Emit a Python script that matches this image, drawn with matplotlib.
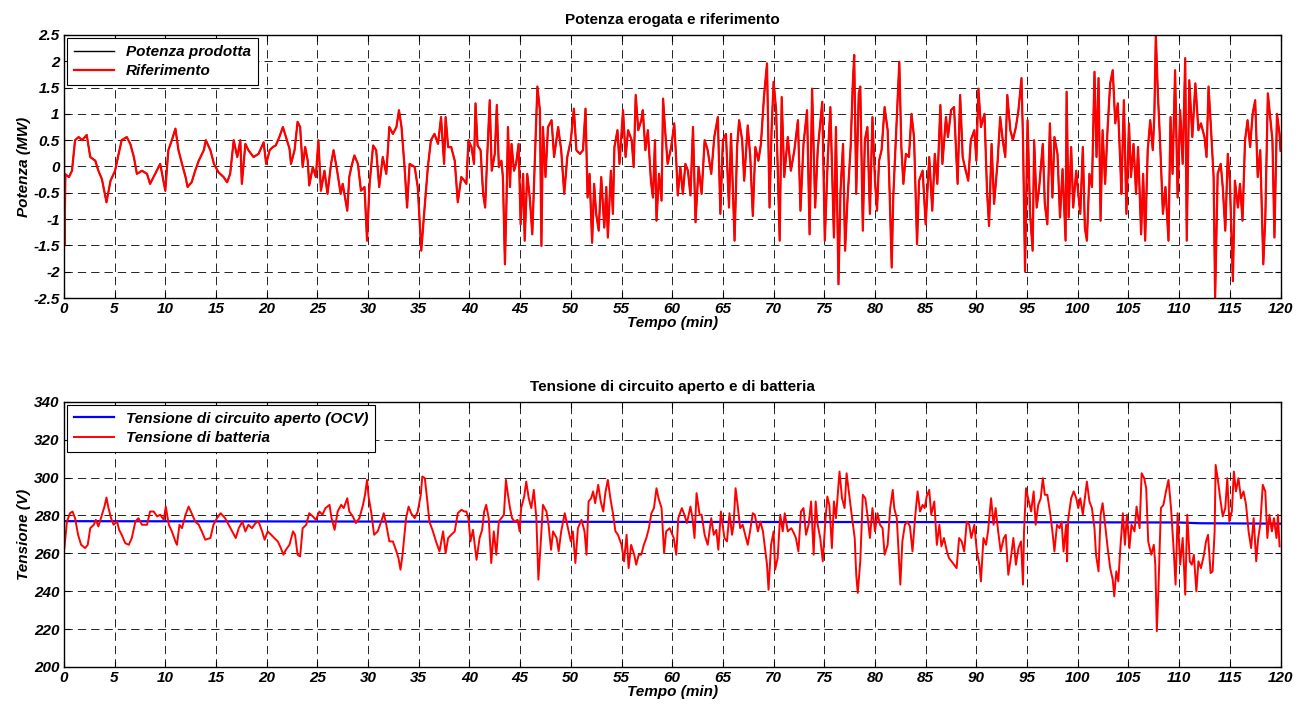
import numpy as np
import matplotlib
matplotlib.use("Agg")
import matplotlib.pyplot as plt
from matplotlib.ticker import FuncFormatter, MultipleLocator

plt.rcParams['font.family'] = ['Liberation Sans', 'DejaVu Sans']
plt.rcParams['axes.unicode_minus'] = False

# --- potenza (MW) ---
t_pot = [0.0, 0.05, 0.15, 0.5, 0.8, 1.1, 1.45, 1.8, 2.25, 2.6, 3.1, 3.4, 3.75, 4.2, 4.6, 5.05, 5.4, 5.7, 6.2, 6.55,
         6.9, 7.2, 7.7, 8.2, 8.5, 9.0, 9.5, 10.0, 10.3, 10.65, 11.0, 11.3, 11.65, 12.0, 12.2, 12.6, 12.95, 13.3, 13.8, 14.0,
         14.45, 14.8, 15.25, 15.75, 16.1, 16.4, 16.75, 17.1, 17.4, 17.55, 17.9, 18.2, 18.7, 19.2, 19.7,
         19.95, 20.3, 20.6, 20.9, 21.25, 21.6, 21.9, 22.25, 22.4, 22.75, 23.05, 23.3, 23.55, 23.8, 24.05, 24.2, 24.55,
         24.85, 25.1, 25.35, 25.7, 26.0, 26.35, 26.6, 26.95, 27.3, 27.5, 27.95, 28.15, 28.35, 28.65, 29.0, 29.3, 29.65,
         29.9, 30.15, 30.5, 30.8, 31.1, 31.45, 31.8, 32.1, 32.45, 32.8, 33.05, 33.3, 33.6, 33.85, 34.1, 34.6, 34.9, 35.25,
         35.5, 35.9, 36.2, 36.55, 36.9, 37.2, 37.5, 37.65, 37.9, 38.2, 38.55, 38.85, 39.2, 39.5,
         39.7, 39.9, 40.2, 40.45, 40.6, 40.8, 41.1, 41.35, 41.55, 41.75, 42.0, 42.2, 42.5, 42.7, 42.9, 43.15, 43.3, 43.5,
         43.65, 43.8, 44.0, 44.15, 44.4, 44.6, 44.85, 45.05, 45.3, 45.45, 45.7, 45.95, 46.2, 46.45, 46.7, 46.95, 47.1,
         47.25, 47.5, 47.75, 48.1, 48.35, 48.75, 49.05, 49.35, 49.65, 50.0, 50.3, 50.55, 50.9, 51.2, 51.45, 51.65, 51.85,
         52.1, 52.3, 52.5, 52.75, 53.0, 53.3, 53.5, 53.65, 53.95, 54.15, 54.3, 54.6, 54.8, 55.15, 55.4, 55.65, 56.0, 56.2,
         56.4, 56.65, 56.95, 57.1, 57.35, 57.6, 57.9, 58.1, 58.3, 58.45, 58.7, 58.95,
         59.1, 59.3, 59.55, 59.9, 60.2, 60.4, 60.55, 60.8, 61.05, 61.3, 61.55, 61.8, 62.05, 62.3, 62.6, 62.9, 63.2, 63.5,
         63.85, 64.15, 64.5, 64.75, 65.0, 65.3, 65.6, 65.8, 66.15, 66.4, 66.6, 66.9, 67.1, 67.45, 67.7, 67.95, 68.2, 68.5,
         68.75, 69.05, 69.35, 69.6, 69.8, 70.0, 70.25, 70.6, 70.8, 71.05, 71.4, 71.7, 72.05, 72.4, 72.65, 72.95, 73.3,
         73.55, 73.8, 74.1, 74.35, 74.8, 75.05, 75.35, 75.6, 75.95, 76.15, 76.4, 76.6, 76.85, 77.05, 77.3, 77.6, 77.8,
         77.95, 78.15, 78.4, 78.55, 78.8,
         79.0, 79.25, 79.5, 79.75, 80.0, 80.2, 80.4, 80.65, 80.95, 81.25, 81.4, 81.65, 81.8, 82.05, 82.4, 82.6, 82.8,
         83.05, 83.35, 83.6, 83.85, 84.15, 84.35, 84.7, 85.0, 85.35, 85.65, 85.9, 86.15, 86.45, 86.65, 87.0, 87.2, 87.5,
         87.8, 88.15, 88.4, 88.65, 88.95, 89.2, 89.45, 89.8, 90.0, 90.2, 90.45, 90.8, 91.05, 91.25, 91.5, 91.75, 92.1,
         92.35, 92.6, 92.85, 93.05, 93.35, 93.6, 93.9, 94.15, 94.45, 94.6, 94.8, 95.05, 95.3, 95.55, 95.7, 95.95, 96.2,
         96.55, 96.75, 97.0, 97.25, 97.5, 97.7, 98.0, 98.25,
         98.5, 98.8, 98.9, 99.1, 99.35, 99.55, 99.85, 100.05, 100.25, 100.5, 100.7, 100.9, 101.15, 101.4, 101.65, 101.85,
         102.05, 102.25, 102.45, 102.7, 102.95, 103.2, 103.45, 103.7, 103.95, 104.2, 104.3, 104.55, 104.8, 105.05, 105.25,
         105.5, 105.75, 105.95, 106.25, 106.45, 106.65, 106.9, 107.15, 107.4, 107.55, 107.7, 107.9, 108.1, 108.4, 108.65,
         108.95, 109.15, 109.35, 109.6, 109.85, 110.1, 110.35, 110.6, 110.75, 111.0, 111.3, 111.6, 111.9, 112.15, 112.5,
         112.7, 112.9, 113.15, 113.4, 113.55, 113.8, 114.1, 114.3, 114.55, 114.8, 115.0, 115.3, 115.5, 115.8, 116.0,
         116.25, 116.5, 116.75, 117.0, 117.25, 117.5, 117.75, 118.0, 118.3, 118.5, 118.75, 118.95, 119.2, 119.4, 119.65,
         119.9, 120.0]
p_rif = [1.35, -1.5, -0.15, -0.2, -0.08, 0.5, 0.56, 0.5, 0.6, 0.18, 0.11, -0.08, -0.24, -0.68, -0.27, -0.08, 0.24, 0.5, 0.56, 0.43,
         0.18, -0.14, -0.08, -0.14, -0.33, -0.14, 0.05, -0.46, 0.31, 0.5, 0.72, 0.31, 0.05, -0.2, -0.39, -0.3, -0.08, 0.11, 0.31, 0.5,
         0.31, 0.05, -0.11, -0.2, -0.3, -0.14, 0.5, 0.18, 0.5, -0.33, 0.43, 0.31, 0.18, 0.24, 0.46,
         0.05, 0.31, 0.37, 0.4, 0.56, 0.75, 0.56, 0.34, 0.05, 0.31, 0.85, 0.75, -0.01, 0.37, 0.11, -0.36, -0.01,
         -0.2, 0.5, -0.46, -0.08, -0.52, 0.05, 0.31, -0.08, -0.52, -0.33, -0.84, -0.2, -0.01, 0.21, 0.05, -0.46, -0.39,
         -1.41, -0.33, 0.4, 0.31, -0.39, 0.18, -0.14, 0.75, 0.62, 0.75, 1.07, 0.75, -0.01, -0.78, 0.05, -0.01, -0.39, -1.6,
         -0.97, -0.01, 0.5, 0.62, 0.43, 0.94, 0.05, 0.94, 0.37, 0.37, 0.11, -0.68, -0.2, -0.27,
         -0.33, 0.5, 0.37, 0.05, 1.2, 0.4, 0.31, -0.52, -0.78, 0.18, 1.26, -0.08, 0.24, 1.17, -0.01, 0.11, -0.2, -1.86,
         -0.71, 0.75, -0.39, 0.43, -0.08, 0.05, 0.43, -1.1, -0.14, -1.41, -0.14, -0.59, -1.29, 0.11, 1.52, 1.07, -1.51,
         0.75, -0.2, 0.75, 0.88, 0.18, 0.75, 0.31, -0.52, 0.18, 0.5, 1.1, 0.31, 0.24, 0.31, 1.1, -0.59, -0.14,
         -1.45, -0.33, -0.9, -1.22, -0.2, -1.16, -0.39, -1.35, -0.08, -0.9, 0.37, 0.69, 0.05, 1.07, 0.18, 0.69, 0.5, -0.01,
         1.36, 0.69, 0.88, 1.07, 0.31, 0.69, -0.27, -0.59, 0.5, -1.03, -0.14, -0.65,
         1.29, 0.69, 0.05, 0.37, 0.82, 0.11, -0.55, -0.01, -0.52, 0.05, -0.08, -0.55, 0.75, -1.06, -0.01, -0.52, 0.5, 0.31,
         -0.14, 0.56, 0.94, -0.9, 0.5, 0.62, -0.78, 0.62, -1.41, 0.37, 0.88, 0.5, -0.27, 0.78, 0.18, -0.94, 0.37, 0.11,
         0.43, 1.32, 1.96, -0.78, 0.69, 1.61, 1.07, -1.41, 1.32, -0.2, 0.56, -0.08, 0.31, 0.88, -0.84, 0.43, 1.07,
         -1.29, 1.48, -0.78, 0.31, 1.23, -1.41, 0.18, 1.13, -1.35, 0.75, -2.24, -0.46, 0.43, -1.6, -0.59, 0.37, 1.52,
         2.12, -0.52, 1.39, 1.52, -1.22,
         0.5, 0.75, -0.9, 0.94, -0.27, -0.84, 0.11, 0.31, 1.13, 0.69, -0.2, -1.92, -0.59, 0.5, 1.99, 0.37, -0.33,
         0.24, 0.18, 1.0, 0.56, -1.48, -0.27, -0.08, -1.1, 0.18, -0.84, 0.24, -0.33, 1.17, 0.05, 0.94, 0.56, 1.07,
         1.13, -0.33, 1.36, 0.18, -0.08, -0.27, 0.5, 0.69, 0.11, 1.48, 0.75, 1.0, -0.46, -1.13, 0.43, -0.71, 0.11,
         0.94, 0.5, 0.18, 1.36, 0.69, 0.5, 0.75, 1.07, 1.68, 0.5, -1.99, 0.88, -0.9, -1.6, 0.5, -0.78, -0.39,
         0.43, -0.71, -1.1, 0.82, -0.59, 0.56, 0.24, -0.97,
         -0.05, -1.41, 1.42, -0.97, 0.37, -0.78, -0.08, -0.52, -0.9, 0.37, -1.16, -1.41, -0.14, -0.39, 1.8, 0.18,
         1.68, -1.03, 0.69, -0.33, 0.75, 1.58, 1.83, 0.82, 1.2, 0.05, -0.52, 1.26, -0.9, 0.82, -0.2,
         0.43, -0.52, 0.37, -1.29, -0.14, -1.41, 0.31, 0.88, 0.31, 0.94, 2.5, 1.39, 0.56, -0.9, -0.39,
         -1.41, 0.94, -0.14, 1.83, -0.59, 1.07, 0.05, 2.06, -1.41, 1.64, 0.56, 1.58, 0.69, 0.82, 0.56,
         0.18, 1.52, 0.69, -0.2, -2.5, -0.14, 0.05, -0.39, -1.22, 0.24, -0.27, -2.18, -0.27, -0.78, -0.33,
         -1.03, 0.5, 0.88, 0.37, 1.0, 1.26, -0.2, 0.31, -1.86, -0.97, 1.39, 1.0, 0.5, -1.35, 1.0,
         0.62, 0.3]
# la potenza prodotta coincide quasi ovunque con il riferimento
p_prod = list(p_rif)

# --- tensioni (V) ---
t_ocv = [0, 30, 60, 90, 110, 112, 120]
v_ocv = [277.0, 276.8, 276.6, 276.5, 276.3, 275.9, 275.7]

t_bat = [0.05, 0.3, 0.6, 0.85, 1.1, 1.4, 1.7, 2.1, 2.35, 2.6, 2.95, 3.15, 3.4, 3.75, 4.0, 4.2, 4.4, 4.65, 4.9, 5.25,
         5.45, 5.7, 6.05, 6.4, 6.7, 7.05, 7.35, 7.7, 8.2, 8.5, 8.85, 9.2, 9.5, 9.85, 10.05, 10.35, 10.65, 11.0, 11.15,
         11.4, 11.65, 12.0, 12.3, 12.6, 12.95, 13.3, 13.6, 13.95, 14.45, 14.75, 15.1, 15.45, 15.9, 16.25, 16.6, 16.95,
         17.25, 17.6, 17.9, 18.2, 18.55, 18.9, 19.2, 19.55, 19.8,
         20.1, 20.45, 20.75, 21.1, 21.4, 21.65, 21.9, 22.25, 22.6, 22.8, 23.05, 23.3, 23.55, 23.9, 24.2, 24.55, 24.85,
         25.2, 25.5, 25.8, 26.2, 26.4, 26.7, 27.0, 27.35, 27.6, 27.95, 28.15, 28.5, 28.8, 29.15, 29.5, 29.7, 29.9, 30.05,
         30.3, 30.6, 30.95, 31.3, 31.55, 31.8, 32.1, 32.45, 32.8, 33.0, 33.2, 33.4, 33.75, 34.0, 34.25, 34.6, 34.9, 35.2,
         35.35, 35.6, 35.85, 36.05, 36.4, 36.7, 37.05, 37.4, 37.65, 37.9, 38.2, 38.55, 38.85, 39.2, 39.5,
         39.7, 39.9, 40.1, 40.35, 40.7, 41.0, 41.25, 41.45, 41.65, 41.9, 42.15, 42.4, 42.65, 42.9, 43.15, 43.4, 43.6,
         43.8, 44.0, 44.2, 44.45, 44.75, 44.95, 45.1, 45.4, 45.6, 45.85, 46.1, 46.35, 46.6, 46.8, 47.0, 47.25, 47.6, 47.8,
         48.05, 48.25, 48.6, 48.8, 49.05, 49.4, 49.65, 50.0, 50.2, 50.45, 50.7, 51.05, 51.35, 51.55, 51.75, 52.0, 52.2,
         52.4, 52.7, 52.95, 53.2, 53.4, 53.65, 53.9, 54.15, 54.4, 54.65, 55.0, 55.25, 55.5, 55.7, 55.95, 56.25, 56.45,
         56.7, 56.95, 57.2, 57.45, 57.7, 57.95, 58.2, 58.45, 58.65, 58.95, 59.2, 59.4, 59.75,
         60.15, 60.4, 60.6, 60.95, 61.2, 61.45, 61.8, 62.0, 62.2, 62.4, 62.7, 62.9, 63.2, 63.5, 63.85, 64.1, 64.35, 64.55,
         64.8, 65.15, 65.4, 65.65, 65.9, 66.05, 66.25, 66.45, 66.7, 66.95, 67.2, 67.45, 67.7, 67.95, 68.15, 68.45, 68.7,
         68.95, 69.15, 69.35, 69.5, 69.75, 70.0, 70.15, 70.4, 70.65, 70.9, 71.1, 71.4, 71.75, 72.0, 72.2, 72.45, 72.7,
         72.95, 73.2, 73.45, 73.7, 73.95, 74.15, 74.35, 74.6, 74.85, 75.1, 75.3, 75.5, 75.75, 75.95, 76.15, 76.5, 76.75,
         77.0, 77.2, 77.5, 77.7, 78.0, 78.15, 78.3, 78.55, 78.8, 79.05,
         79.25, 79.5, 79.75, 80.0, 80.25, 80.5, 80.75, 80.95, 81.25, 81.5, 81.75, 81.9, 82.15, 82.3, 82.5, 82.7, 82.95,
         83.2, 83.45, 83.7, 83.95, 84.2, 84.45, 84.7, 84.9, 85.1, 85.35, 85.55, 85.85, 86.1, 86.35, 86.55, 86.8, 87.1,
         87.3, 87.55, 87.8, 88.05, 88.3, 88.55, 88.8, 89.05, 89.3, 89.5, 89.8, 90.05, 90.3, 90.45, 90.7, 90.95, 91.15,
         91.45, 91.7, 91.9, 92.15, 92.4, 92.7, 92.9, 93.15, 93.4, 93.65, 93.9, 94.15, 94.4, 94.6, 94.7, 94.9, 95.1, 95.4,
         95.65, 95.85, 96.1, 96.35, 96.55, 96.75, 97.0, 97.3, 97.5, 97.7, 97.95, 98.2, 98.4, 98.6, 98.85,
         98.95, 99.05, 99.35, 99.6, 99.85, 100.05, 100.25, 100.5, 100.7, 100.9, 101.15, 101.4, 101.65, 101.8, 102.05,
         102.25, 102.45, 102.7, 102.95, 103.2, 103.45, 103.6, 103.8, 104.0, 104.2, 104.45, 104.65, 104.85, 105.1, 105.3,
         105.6, 105.8, 106.1, 106.3, 106.55, 106.75, 106.95, 107.25, 107.5, 107.65, 107.8, 107.95, 108.2, 108.45, 108.7,
         108.95, 109.2, 109.45, 109.65, 109.85, 110.1, 110.35, 110.6, 110.8, 111.05, 111.25, 111.45, 111.7, 111.9,
         112.15, 112.45, 112.65, 112.85, 113.1, 113.3, 113.5, 113.6, 113.8, 114.05, 114.3, 114.55, 114.75, 114.95,
         115.2, 115.4, 115.6, 115.85, 116.1, 116.35, 116.6, 116.85, 117.1, 117.35, 117.6, 117.8, 118.0, 118.25, 118.5,
         118.7, 118.9, 119.15, 119.35, 119.6, 119.75, 119.9]
v_bat = [262.8, 276.8, 281.2, 282.1, 278.6, 269.8, 264.5, 262.8, 264.5, 273.3, 275.1, 277.7, 274.2, 280.4, 284.7, 289.5, 283.9, 278.6, 275.1, 276.8,
         272.4, 269.8, 265.4, 264.5, 268.1, 276.8, 278.6, 275.1, 275.1, 282.1, 282.1, 279.5, 280.4, 277.7, 284.7, 275.1, 271.6, 266.3, 264.5,
         275.1, 273.3, 280.4, 284.7, 281.2, 276.8, 275.1, 271.6, 267.2, 268.1, 275.1, 278.6, 281.2, 278.6, 275.1, 271.6, 268.1,
         273.3, 276.8, 271.6, 275.1, 273.3, 276.0, 276.8, 271.6, 267.2,
         271.6, 269.8, 268.1, 266.3, 262.8, 259.3, 261.9, 264.5, 271.6, 269.8, 259.3, 258.4, 273.3, 275.1, 281.2, 279.5, 277.7,
         282.1, 280.4, 283.9, 285.6, 278.6, 272.4, 282.1, 285.6, 283.9, 289.1, 282.1, 279.5, 276.0, 278.6, 285.6, 290.9, 298.8, 290.0,
         282.1, 269.8, 271.6, 276.8, 281.2, 275.1, 266.3, 266.3, 261.0, 257.5, 251.4, 259.3, 278.6, 284.7, 281.2, 278.6, 282.1, 290.9,
         300.6, 299.7, 287.4, 276.8, 271.6, 266.3, 261.0, 271.6, 260.1, 268.1, 269.8, 271.6, 281.2, 283.0, 282.1,
         282.1, 278.6, 266.3, 272.4, 256.6, 268.1, 272.4, 282.1, 285.6, 278.6, 254.9, 271.6, 259.3, 276.8, 278.6, 280.4, 298.8,
         290.9, 283.9, 278.6, 276.8, 277.7, 271.6, 283.9, 290.0, 297.9, 289.1, 283.9, 293.5, 278.6, 246.1, 262.8, 285.6, 282.1, 275.1,
         261.9, 271.6, 268.1, 261.0, 271.6, 281.2, 275.1, 266.3, 271.6, 254.9, 273.3, 277.7, 271.6, 259.3, 287.4, 289.1, 292.7,
         286.5, 296.2, 287.4, 282.1, 291.8, 298.8, 289.1, 281.2, 271.6, 269.8, 264.5, 255.8, 269.8, 252.2, 264.5, 259.3, 254.0,
         259.3, 259.3, 264.5, 268.1, 273.3, 281.2, 283.9, 294.4, 289.1, 283.9, 260.1, 271.6, 273.3,
         268.1, 259.3, 278.6, 283.9, 280.4, 276.0, 284.7, 278.6, 268.1, 291.8, 280.4, 280.4, 269.8, 264.5, 278.6, 269.8, 272.4, 261.9,
         282.1, 268.1, 266.3, 281.2, 269.8, 275.1, 294.4, 285.6, 273.3, 275.1, 269.8, 264.5, 272.4, 281.2, 280.4, 271.6, 276.8,
         271.6, 262.8, 254.0, 240.8, 264.5, 271.6, 251.4, 257.5, 280.4, 271.6, 281.2, 271.6, 273.3, 270.7, 268.1, 261.0, 282.1,
         283.9, 269.8, 275.1, 287.4, 259.3, 287.4, 275.1, 268.1, 255.8, 276.8, 290.0, 285.6, 262.8, 287.4, 278.6, 303.2, 289.1,
         283.9, 302.3, 289.1, 280.4, 268.1, 248.7, 239.1, 255.8, 290.9, 289.1,
         280.4, 268.1, 283.9, 271.6, 281.2, 275.1, 273.3, 259.3, 264.5, 283.9, 293.5, 283.9, 278.6, 263.7, 243.5, 266.3, 275.1,
         276.8, 274.2, 261.0, 278.6, 292.7, 282.1, 285.6, 283.9, 290.0, 293.5, 280.4, 287.4, 264.5, 275.1, 263.7, 268.1, 261.0,
         257.5, 255.8, 254.0, 252.2, 268.1, 266.3, 261.0, 276.8, 275.1, 268.1, 275.1, 261.0, 254.0, 245.2, 268.1, 264.5, 271.6,
         289.1, 275.1, 283.9, 271.6, 261.0, 268.1, 269.8, 248.7, 257.5, 268.1, 254.0, 262.8, 266.3, 243.5, 271.6, 294.4, 289.1, 282.1,
         292.7, 275.1, 285.6, 289.1, 299.7, 290.9, 290.9, 280.4, 271.6, 261.0, 275.1, 273.3, 276.8, 261.0, 275.1,
         255.8, 277.7, 289.1, 292.7, 289.1, 283.9, 289.1, 280.4, 289.1, 297.9, 287.4, 283.9, 273.3, 259.3, 250.5,
         280.4, 286.5, 275.1, 262.8, 252.2, 246.1, 237.3, 250.5, 245.2, 262.8, 281.2, 264.5, 280.4, 262.8, 275.1,
         271.6, 284.7, 273.3, 302.3, 299.7, 294.4, 266.3, 259.3, 264.5, 254.0, 218.9, 239.9, 283.9, 285.6, 292.7,
         298.8, 283.9, 262.8, 243.5, 281.2, 254.0, 268.1, 238.2, 280.4, 255.8, 254.0, 259.3, 239.9, 255.8,
         252.2, 259.3, 266.3, 269.8, 249.6, 250.5, 271.6, 306.7, 299.7, 289.1, 279.5, 283.9, 299.7, 276.8,
         282.1, 303.2, 292.7, 299.7, 289.1, 292.7, 285.6, 271.6, 262.8, 278.6, 255.8, 268.1, 275.1, 296.2, 292.7,
         268.1, 280.4, 271.6, 278.6, 268.1, 280.4, 263.7]

fnt = dict(fontsize=11, fontweight='bold', fontstyle='italic')


def stile(ax, ylim, ystep):
    ax.set_xlim(0, 120)
    ax.set_ylim(*ylim)
    ax.xaxis.set_major_locator(MultipleLocator(5))
    ax.yaxis.set_major_locator(MultipleLocator(ystep))
    ax.yaxis.set_major_formatter(FuncFormatter(lambda v, p: '%g' % v))
    ax.tick_params(direction='in', top=True, right=True, length=4, width=0.8, pad=3)
    for lb in ax.get_xticklabels() + ax.get_yticklabels():
        lb.set_fontsize(11)
        lb.set_fontweight('bold')
        lb.set_fontstyle('italic')
    ax.grid(True, color='k', linestyle=(0, (10, 6)), linewidth=0.6)
    for s in ax.spines.values():
        s.set_linewidth(1.0)
    ax.set_xlabel('Tempo (min)', labelpad=0, **fnt)


fig = plt.figure(figsize=(13.04, 7.07), dpi=100)
ax1 = fig.add_axes([0.049, 0.5785, 0.933, 0.372])
ax2 = fig.add_axes([0.049, 0.0566, 0.933, 0.375])

ax1.plot(t_pot, p_prod, color='k', lw=1.0, label='Potenza prodotta')
ax1.plot(t_pot, p_rif, color='#ff0000', lw=1.6, label='Riferimento')
stile(ax1, (-2.5, 2.5), 0.5)
ax1.set_ylabel('Potenza (MW)', labelpad=2, **fnt)
ax1.set_title('Potenza erogata e riferimento', fontsize=11, fontweight='bold', pad=8)

ax2.plot(t_ocv, v_ocv, color='#0000ff', lw=1.6, label='Tensione di circuito aperto (OCV)')
ax2.plot(t_bat, v_bat, color='#ff0000', lw=1.4, label='Tensione di batteria')
stile(ax2, (200, 340), 20)
ax2.set_ylabel('Tensione (V)', labelpad=2, **fnt)
ax2.set_title('Tensione di circuito aperto e di batteria', fontsize=11, fontweight='bold', pad=8)

for ax in (ax1, ax2):
    leg = ax.legend(loc='upper left', fancybox=False, edgecolor='k', framealpha=1,
                    borderaxespad=0.2, handlelength=2.6, borderpad=0.45, labelspacing=0.35,
                    prop=dict(size=11, weight='bold', style='italic'))
    leg.get_frame().set_linewidth(0.8)

fig.savefig('out.png', dpi=100)
